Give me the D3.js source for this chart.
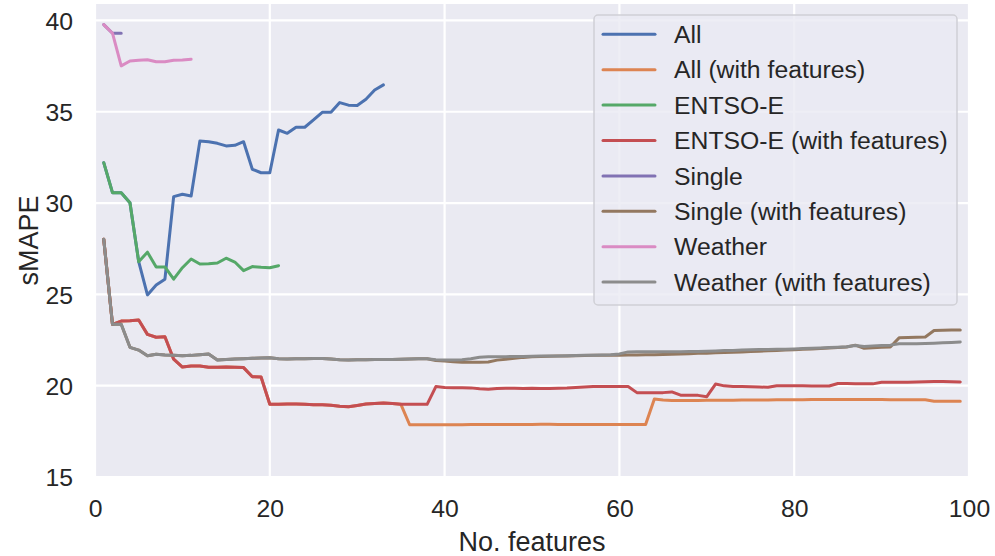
<!DOCTYPE html>
<html>
<head>
<meta charset="utf-8">
<script src="https://cdn.jsdelivr.net/npm/d3@7"></script>
<style>
  html, body { margin: 0; padding: 0; background: #ffffff; }
  svg { display: block; font-family: "Liberation Sans", Arial, sans-serif; }
</style>
</head>
<body>
<svg id="chart" width="995" height="556"></svg>
<script>
// sMAPE against the number of selected features, one series per feature source.
const seriesNames = [
  "All", "All (with features)", "ENTSO-E", "ENTSO-E (with features)",
  "Single", "Single (with features)", "Weather", "Weather (with features)"
];
const seriesColors = ["#4C72B0", "#DD8452", "#55A868", "#C44E52", "#8172B3", "#937860", "#DA8BC3", "#8C8C8C"];

const allVals = [32.21, 30.57, 30.57, 30.02, 26.79, 24.97, 25.51, 25.83, 30.35, 30.48,
  30.39, 33.40, 33.36, 33.27, 33.13, 33.16, 33.36, 31.85, 31.66, 31.66,
  34.00, 33.82, 34.15, 34.15, 34.55, 34.97, 34.97, 35.50, 35.36, 35.34,
  35.68, 36.19, 36.47];

const allFeatVals = [28.02, 23.36, 23.54, 23.56, 23.60, 22.81, 22.65, 22.68, 21.45, 21.02,
  21.08, 21.08, 21.01, 21.01, 21.03, 21.01, 20.99, 20.49, 20.48, 18.98,
  18.99, 19.00, 19.00, 18.99, 18.95, 18.95, 18.93, 18.88, 18.85, 18.92,
  19.00, 19.03, 19.05, 19.02, 18.98, 17.86, 17.86, 17.86, 17.86, 17.86,
  17.86, 17.86, 17.87, 17.87, 17.87, 17.87, 17.87, 17.88, 17.88, 17.88,
  17.89, 17.89, 17.88, 17.88, 17.88, 17.88, 17.88, 17.88, 17.88, 17.88,
  17.88, 17.88, 17.87, 19.27, 19.22, 19.19, 19.19, 19.19, 19.19, 19.20,
  19.20, 19.20, 19.20, 19.21, 19.21, 19.22, 19.22, 19.23, 19.23, 19.23,
  19.23, 19.24, 19.24, 19.24, 19.24, 19.24, 19.24, 19.24, 19.24, 19.24,
  19.23, 19.23, 19.23, 19.23, 19.23, 19.15, 19.15, 19.15, 19.15];

const entsoeVals = [32.21, 30.57, 30.57, 30.02, 26.79, 27.31, 26.50, 26.50, 25.83, 26.46,
  26.94, 26.66, 26.68, 26.72, 26.98, 26.77, 26.30, 26.52, 26.48, 26.46,
  26.57];

const entsoeFeatVals = [28.02, 23.36, 23.54, 23.56, 23.60, 22.81, 22.65, 22.68, 21.45, 21.02,
  21.08, 21.08, 21.01, 21.01, 21.03, 21.01, 20.99, 20.49, 20.48, 18.98,
  18.99, 19.00, 19.00, 18.99, 18.95, 18.95, 18.93, 18.88, 18.85, 18.92,
  19.00, 19.03, 19.05, 19.02, 18.98, 18.98, 18.98, 18.98, 19.95, 19.90,
  19.89, 19.89, 19.88, 19.83, 19.80, 19.85, 19.86, 19.86, 19.85, 19.86,
  19.85, 19.85, 19.86, 19.87, 19.90, 19.93, 19.95, 19.95, 19.95, 19.95,
  19.95, 19.62, 19.62, 19.62, 19.62, 19.66, 19.48, 19.48, 19.47, 19.40,
  20.09, 19.99, 19.96, 19.95, 19.94, 19.93, 19.91, 20.00, 20.00, 19.99,
  19.99, 19.98, 19.98, 19.98, 20.12, 20.12, 20.11, 20.10, 20.10, 20.19,
  20.19, 20.19, 20.19, 20.20, 20.21, 20.23, 20.23, 20.22, 20.20];

const singleVals = [39.77, 39.30, 39.30];

const singleFeatVals = [28.02, 23.36, 23.36, 22.10, 21.95, 21.64, 21.72, 21.68, 21.66, 21.64,
  21.66, 21.70, 21.74, 21.41, 21.44, 21.46, 21.48, 21.50, 21.52, 21.53,
  21.47, 21.46, 21.47, 21.48, 21.49, 21.49, 21.46, 21.42, 21.41, 21.42,
  21.42, 21.43, 21.44, 21.44, 21.45, 21.46, 21.47, 21.48, 21.38, 21.35,
  21.31, 21.28, 21.28, 21.28, 21.30, 21.40, 21.45, 21.50, 21.55, 21.58,
  21.60, 21.61, 21.62, 21.63, 21.64, 21.65, 21.66, 21.66, 21.67, 21.67,
  21.68, 21.68, 21.69, 21.70, 21.71, 21.72, 21.74, 21.75, 21.77, 21.78,
  21.80, 21.82, 21.83, 21.85, 21.87, 21.89, 21.91, 21.93, 21.95, 21.97,
  21.99, 22.01, 22.03, 22.06, 22.09, 22.12, 22.22, 22.05, 22.08, 22.10,
  22.12, 22.62, 22.64, 22.65, 22.67, 23.02, 23.04, 23.05, 23.05];

const weatherVals = [39.77, 39.30, 37.51, 37.78, 37.82, 37.85, 37.74, 37.74, 37.82, 37.84,
  37.88];

const weatherFeatVals = [28.02, 23.36, 23.36, 22.10, 21.95, 21.64, 21.72, 21.68, 21.66, 21.64,
  21.66, 21.70, 21.74, 21.41, 21.44, 21.46, 21.48, 21.50, 21.52, 21.53,
  21.47, 21.46, 21.47, 21.48, 21.49, 21.49, 21.46, 21.42, 21.41, 21.42,
  21.42, 21.43, 21.44, 21.44, 21.45, 21.46, 21.47, 21.48, 21.42, 21.41,
  21.41, 21.42, 21.48, 21.56, 21.58, 21.58, 21.59, 21.60, 21.60, 21.61,
  21.62, 21.62, 21.63, 21.64, 21.65, 21.66, 21.67, 21.68, 21.70, 21.74,
  21.85, 21.86, 21.86, 21.86, 21.86, 21.86, 21.86, 21.87, 21.87, 21.88,
  21.90, 21.92, 21.93, 21.95, 21.97, 21.98, 21.98, 21.99, 22.00, 22.01,
  22.03, 22.05, 22.07, 22.09, 22.11, 22.13, 22.20, 22.15, 22.18, 22.20,
  22.22, 22.30, 22.30, 22.30, 22.31, 22.33, 22.35, 22.37, 22.39];

const xTicks = [0, 20, 40, 60, 80, 100];
const yTicks = [15, 20, 25, 30, 35, 40];

const seriesValues = [allVals, allFeatVals, entsoeVals, entsoeFeatVals,
  singleVals, singleFeatVals, weatherVals, weatherFeatVals];

// Layout
const plot = { left: 95, right: 969, top: 4, bottom: 477 };
const textColor = "#262626";
const tickFont = 24.75;
const labelFont = 27;

const x = d3.scaleLinear().domain([0, 100]).range([plot.left, plot.right]);
const y = d3.scaleLinear().domain([15, 40.9]).range([plot.bottom, plot.top]);

const svg = d3.select("#chart");

// Plot background
svg.append("rect")
  .attr("x", plot.left).attr("y", plot.top)
  .attr("width", plot.right - plot.left).attr("height", plot.bottom - plot.top)
  .attr("fill", "#EAEAF2");

svg.append("clipPath").attr("id", "plot-clip")
  .append("rect")
  .attr("x", plot.left).attr("y", plot.top)
  .attr("width", plot.right - plot.left).attr("height", plot.bottom - plot.top);

// Grid lines
const grid = svg.append("g").attr("clip-path", "url(#plot-clip)");
grid.selectAll("line.gx").data(xTicks).join("line")
  .attr("class", "gx")
  .attr("x1", d => x(d)).attr("x2", d => x(d))
  .attr("y1", plot.top).attr("y2", plot.bottom)
  .attr("stroke", "#ffffff").attr("stroke-width", 2.2);
grid.selectAll("line.gy").data(yTicks).join("line")
  .attr("class", "gy")
  .attr("x1", plot.left).attr("x2", plot.right)
  .attr("y1", d => y(d)).attr("y2", d => y(d))
  .attr("stroke", "#ffffff").attr("stroke-width", 2.2);

// Axes (labels only, no domain line or tick marks)
const xAxis = svg.append("g")
  .attr("transform", `translate(0,${plot.bottom})`)
  .call(d3.axisBottom(x).tickValues(xTicks).tickSize(0).tickPadding(0).tickFormat(d3.format("d")));
xAxis.select(".domain").remove();
xAxis.selectAll("text")
  .attr("y", 40).attr("dy", null)
  .attr("fill", textColor)
  .style("font-size", tickFont + "px")
  .style("font-family", "'Liberation Sans', Arial, sans-serif");

const yAxis = svg.append("g")
  .attr("transform", `translate(${plot.left},0)`)
  .call(d3.axisLeft(y).tickValues(yTicks).tickSize(0).tickPadding(0).tickFormat(d3.format("d")));
yAxis.select(".domain").remove();
yAxis.selectAll("text")
  .attr("x", -22).attr("dy", "0.35em")
  .attr("fill", textColor)
  .style("font-size", tickFont + "px")
  .style("font-family", "'Liberation Sans', Arial, sans-serif");

// Axis titles
svg.append("text")
  .attr("x", (plot.left + plot.right) / 2).attr("y", 551)
  .attr("text-anchor", "middle")
  .attr("fill", textColor)
  .style("font-size", labelFont + "px")
  .text("No. features");

svg.append("text")
  .attr("transform", `translate(38,${(plot.top + plot.bottom) / 2}) rotate(-90)`)
  .attr("text-anchor", "middle")
  .attr("fill", textColor)
  .style("font-size", labelFont + "px")
  .text("sMAPE");

// Series lines
const line = d3.line()
  .x((d, i) => x(i + 1))
  .y(d => y(d));

const lines = svg.append("g").attr("clip-path", "url(#plot-clip)");
lines.selectAll("path").data(seriesValues).join("path")
  .attr("d", d => line(d))
  .attr("fill", "none")
  .attr("stroke", (d, i) => seriesColors[i])
  .attr("stroke-width", 3)
  .attr("stroke-linejoin", "round")
  .attr("stroke-linecap", "round");

// Legend
const legend = { x: 594, y: 15, width: 363, height: 290, rowStart: 34.3, rowStep: 35.4 };
const lg = svg.append("g");
lg.append("rect")
  .attr("x", legend.x).attr("y", legend.y)
  .attr("width", legend.width).attr("height", legend.height)
  .attr("rx", 4).attr("ry", 4)
  .attr("fill", "#EAEAF2").attr("fill-opacity", 0.8)
  .attr("stroke", "#d0d0d6").attr("stroke-width", 1.5);

const rows = lg.selectAll("g.row").data(seriesNames).join("g")
  .attr("class", "row")
  .attr("transform", (d, i) => `translate(0,${legend.y + legend.rowStart - 15 + i * legend.rowStep})`);
rows.append("line")
  .attr("x1", 603).attr("x2", 655)
  .attr("y1", 0).attr("y2", 0)
  .attr("stroke", (d, i) => seriesColors[i])
  .attr("stroke-width", 3)
  .attr("stroke-linecap", "round");
rows.append("text")
  .attr("x", 674).attr("y", 0).attr("dy", "0.35em")
  .attr("fill", textColor)
  .style("font-size", tickFont + "px")
  .text(d => d);
</script>
</body>
</html>
